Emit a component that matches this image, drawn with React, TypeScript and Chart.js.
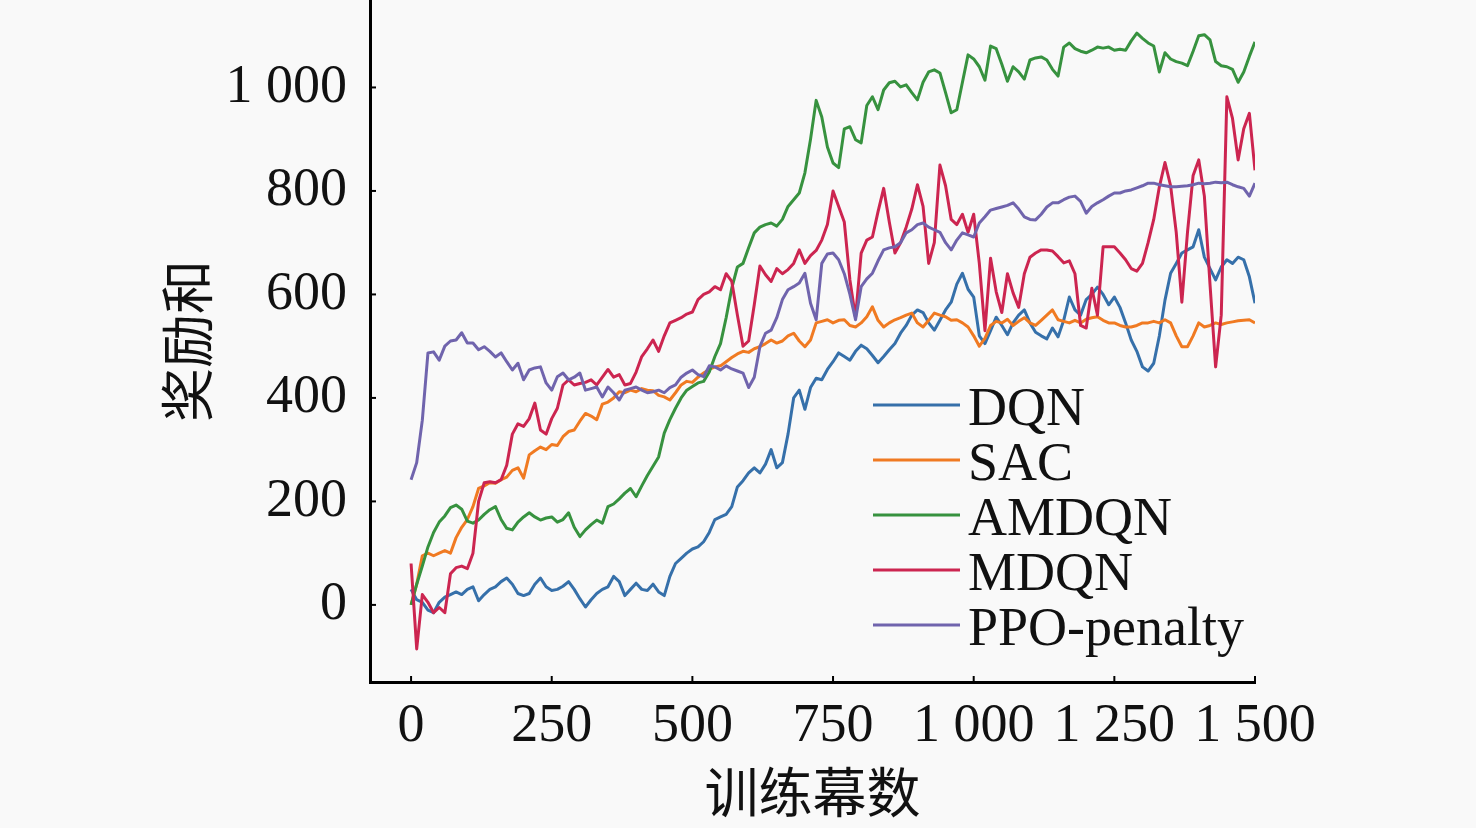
import Chart from "chart.js/auto";
import { useEffect, useRef } from "react";

// episodes sampled every 10 steps, 0 .. 1500
const episodes = Array.from({ length: 151 }, (_, i) => i * 10);

const dqn = [
  30, 10, 5, -10, -15, 5, 15, 20, 25, 20,
  30, 35, 8, 20, 30, 35, 45, 52, 40, 22,
  18, 22, 40, 52, 35, 28, 30, 36, 45, 30,
  12, -4, 10, 22, 30, 35, 55, 45, 18, 30,
  42, 30, 28, 40, 25, 18, 55, 80, 90, 100,
  108, 112, 122, 140, 165, 170, 175, 190, 228, 240,
  255, 265, 255, 272, 300, 265, 275, 330, 400, 415,
  378, 420, 438, 435, 455, 470, 487, 480, 473, 490,
  502, 495, 482, 468, 480, 493, 505, 525, 540, 560,
  570, 565, 545, 531, 550, 570, 585, 620, 641, 610,
  595, 520, 505, 530, 556, 540, 522, 545, 560, 570,
  545, 527, 520, 514, 535, 518, 550, 595, 570, 560,
  590, 600, 614, 600, 580, 595, 575, 545, 512, 490,
  460, 452, 467, 520, 589, 641, 660, 680, 686, 692,
  725, 672, 650, 628, 653, 667, 660, 672, 667, 634,
  583,
];

const sac = [
  0, 40, 95, 100, 95, 100, 105, 100, 130, 150,
  165, 190, 225, 230, 236, 235, 242, 247, 260, 265,
  245, 290, 298, 305, 300, 310, 308, 325, 335, 338,
  355, 370, 365, 358, 388, 392, 400, 412, 410, 415,
  412, 418, 415, 414, 405, 402, 396, 410, 425, 432,
  430, 440, 448, 455, 460, 462, 470, 478, 485, 490,
  488, 495, 499, 505, 512, 506, 510, 520, 525, 510,
  499, 512, 545, 548, 551, 545, 550, 551, 540, 537,
  545, 557, 576, 550, 537, 545, 551, 555, 560, 564,
  545, 537, 550, 564, 560, 557, 550, 551, 545, 537,
  520, 500, 515, 540, 548, 545, 552, 540, 548, 555,
  545, 540, 550, 560, 570, 551, 548, 545, 550, 545,
  552, 555, 557, 550, 545, 545, 540, 537, 537, 540,
  545, 545, 548, 545, 551, 545, 520, 499, 499, 520,
  545, 537, 540, 545, 542, 545, 547, 549, 550, 551,
  545,
];

const amdqn = [
  0, 40, 75, 112, 140, 160, 172, 188, 193, 185,
  162, 158, 164, 175, 184, 190, 165, 148, 145, 160,
  170, 178, 170, 164, 168, 170, 160, 165, 178, 150,
  132, 145, 155, 164, 158, 190, 195, 205, 216, 225,
  209, 230, 250, 268, 286, 332, 358, 380, 400, 415,
  422, 429, 432, 450, 480, 505, 555, 612, 653, 660,
  690, 719, 730, 735, 738, 732, 745, 770, 783, 796,
  835, 900, 975, 943, 885, 854, 845, 920, 924, 899,
  893, 965, 982, 957, 995, 1009, 1012, 1001, 1005, 990,
  976, 1010, 1030, 1034, 1028, 990, 951, 957, 1010, 1063,
  1055, 1040, 1014, 1080, 1075, 1045, 1012, 1040, 1030, 1016,
  1053, 1057, 1059, 1053, 1035, 1022, 1078, 1086, 1075, 1070,
  1067, 1072, 1078, 1076, 1078, 1072, 1074, 1072, 1090, 1105,
  1095, 1086, 1080, 1030, 1067, 1055, 1050, 1047, 1042, 1070,
  1100, 1102, 1092, 1050, 1042, 1040, 1035, 1010, 1030, 1060,
  1088,
];

const mdqn = [
  80, -85, 20, 5, -15, -5, -15, 60, 72, 75,
  70, 100, 200, 236, 238, 236, 242, 270, 330, 350,
  345, 360, 390, 338, 330, 360, 380, 425, 435, 425,
  428, 430, 435, 425, 440, 455, 440, 445, 425, 428,
  450, 480, 495, 512, 490, 520, 545, 550, 555, 562,
  566, 590, 600, 605, 615, 609, 640, 625, 560, 500,
  510, 580, 655, 638, 625, 650, 640, 648, 660, 686,
  660, 675, 685, 705, 735, 800, 770, 740, 628, 555,
  680, 705, 711, 760, 805, 740, 680, 700, 730, 765,
  812, 770, 660, 700, 850, 810, 745, 735, 755, 720,
  755, 660, 530, 670, 605, 565, 640, 603, 575, 640,
  672, 680, 686, 686, 684, 673, 661, 665, 640, 540,
  535, 612, 560, 692, 692, 692, 680, 667, 650, 645,
  660, 700, 745, 808, 855, 810, 720, 585, 720, 830,
  860, 790, 620, 460, 560, 982, 940, 860, 920, 950,
  840,
];

const ppoPenalty = [
  242, 275, 357, 487, 489, 473, 500, 510, 512, 526,
  506, 506, 493, 499, 490, 479, 487, 470, 454, 467,
  435, 454, 458, 460, 429, 415, 441, 448, 435, 440,
  448, 415, 418, 421, 402, 421, 410, 396, 415, 418,
  421, 415, 410, 412, 415, 410, 420, 425, 440, 448,
  454, 445, 441, 462, 460, 454, 462, 456, 452, 448,
  420, 440, 499, 525, 531, 555, 590, 609, 615, 622,
  641, 583, 551, 660, 678, 680, 667, 640, 600, 551,
  615, 630, 641, 665, 686, 690, 692, 700, 719, 725,
  735, 738, 730, 725, 720, 700, 686, 705, 719, 715,
  711, 738, 750, 763, 766, 769, 772, 777, 765, 750,
  745, 744, 755, 769, 777, 777, 783, 788, 790, 780,
  757, 770, 777, 783, 790, 796, 796, 800, 802, 806,
  810, 815, 815, 812, 810, 808, 808, 809, 810, 812,
  815, 814, 815, 817, 816, 817, 812, 808, 805, 790,
  815,
];

const seriesNames = ["DQN", "SAC", "AMDQN", "MDQN", "PPO-penalty"];
const seriesValues = [dqn, sac, amdqn, mdqn, ppoPenalty];
const seriesColors = ["#3670aa", "#f07a22", "#37923f", "#cc2550", "#7064ad"];

const xTicks = [0, 250, 500, 750, 1000, 1250, 1500];
const xTickLabels = ["0", "250", "500", "750", "1 000", "1 250", "1 500"];
const yTicks = [0, 200, 400, 600, 800, 1000];
const yTickLabels = ["0", "200", "400", "600", "800", "1 000"];

const serif = '"Liberation Serif", "Times New Roman", serif';
const cjk = '"Noto Sans CJK SC", "Liberation Serif", sans-serif';

// inward tick marks and the legend inside the plot
const overlay = {
  id: "overlay",
  afterDraw(chart: Chart) {
    const { ctx, chartArea, scales } = chart;
    ctx.save();
    ctx.strokeStyle = "#000";
    ctx.lineWidth = 2;
    for (const v of yTicks) {
      const y = scales.y.getPixelForValue(v);
      ctx.beginPath();
      ctx.moveTo(chartArea.left, y);
      ctx.lineTo(chartArea.left + 6, y);
      ctx.stroke();
    }
    for (const v of xTicks) {
      const x = scales.x.getPixelForValue(v);
      ctx.beginPath();
      ctx.moveTo(x, chartArea.bottom);
      ctx.lineTo(x, chartArea.bottom - 6);
      ctx.stroke();
    }
    ctx.font = `54px ${serif}`;
    ctx.textBaseline = "alphabetic";
    ctx.textAlign = "left";
    chart.data.datasets.forEach((ds, i) => {
      const y = 405 + 55 * i;
      ctx.strokeStyle = ds.borderColor as string;
      ctx.lineWidth = 3;
      ctx.beginPath();
      ctx.moveTo(873, y);
      ctx.lineTo(960, y);
      ctx.stroke();
      ctx.fillStyle = "#111";
      ctx.fillText(ds.label ?? "", 968, y + 20);
    });
    ctx.restore();
  },
};

export default function App() {
  const canvasRef = useRef<HTMLCanvasElement>(null);

  useEffect(() => {
    const chart = new Chart(canvasRef.current!, {
      type: "line",
      data: {
        datasets: seriesNames.map((name, i) => ({
          label: name,
          data: episodes.map((x, j) => ({ x, y: seriesValues[i][j] })),
          borderColor: seriesColors[i],
          backgroundColor: seriesColors[i],
          borderWidth: 3,
          borderJoinStyle: "round" as const,
          pointRadius: 0,
          tension: 0,
          order: seriesNames.length - i,
        })),
      },
      options: {
        animation: false,
        responsive: false,
        layout: { padding: { top: 0, right: 221, bottom: 0, left: 0 } },
        plugins: {
          legend: { display: false },
          tooltip: { enabled: false },
        },
        scales: {
          x: {
            type: "linear",
            min: -73,
            max: 1500,
            grid: { display: false, drawTicks: false },
            border: { display: true, color: "#000", width: 3 },
            afterBuildTicks: (scale) => {
              scale.ticks = xTicks.map((value) => ({ value }));
            },
            afterFit: (scale) => {
              scale.height = 146;
              scale.paddingLeft = 0;
              scale.paddingRight = 0;
            },
            ticks: {
              autoSkip: false,
              maxRotation: 0,
              padding: 12,
              color: "#111",
              font: { family: serif, size: 54 },
              callback: (value) => xTickLabels[xTicks.indexOf(Number(value))],
            },
            title: {
              display: true,
              text: "训练幕数",
              color: "#111",
              font: { family: cjk, size: 54 },
              padding: { top: 0, bottom: 3 },
            },
          },
          y: {
            min: -149,
            max: 1169,
            grid: { display: false, drawTicks: false },
            border: { display: true, color: "#000", width: 3 },
            afterBuildTicks: (scale) => {
              scale.ticks = yTicks.map((value) => ({ value }));
            },
            afterFit: (scale) => {
              scale.width = 370;
              scale.paddingTop = 0;
              scale.paddingBottom = 0;
            },
            ticks: {
              padding: 23,
              color: "#111",
              font: { family: serif, size: 54 },
              callback: (value) => yTickLabels[yTicks.indexOf(Number(value))],
            },
            title: {
              display: true,
              text: "奖励和",
              color: "#111",
              font: { family: cjk, size: 54 },
              padding: { top: 155, bottom: 0 },
            },
          },
        },
      },
      plugins: [overlay],
    });

    return () => chart.destroy();
  }, []);

  return (
    <div style={{ position: "fixed", left: 0, top: 0, width: 1476, height: 828, background: "#f9f9f9" }}>
      <canvas ref={canvasRef} width={1476} height={828} style={{ display: "block" }}></canvas>
    </div>
  );
}
